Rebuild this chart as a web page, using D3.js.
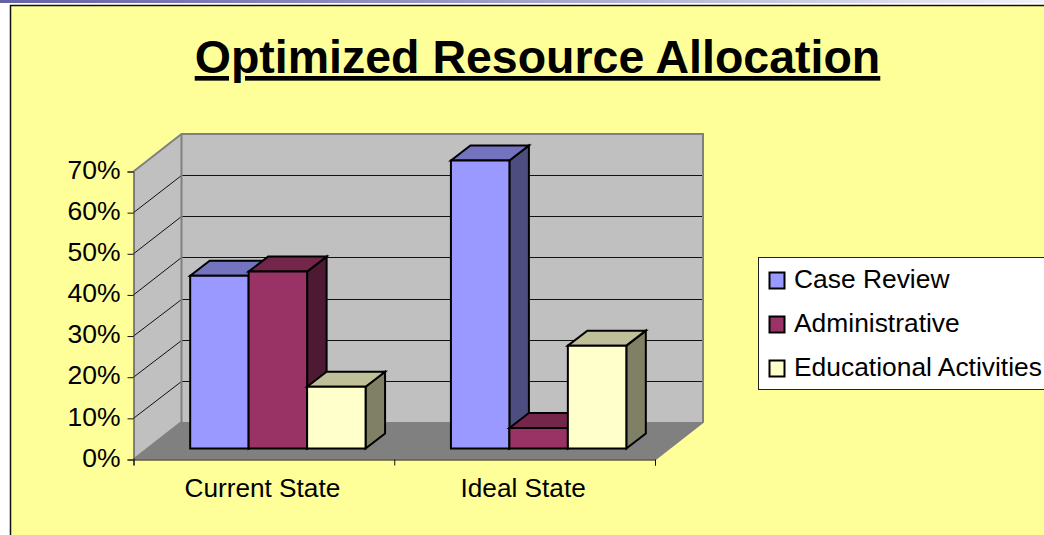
<!DOCTYPE html>
<html><head><meta charset="utf-8">
<script src="https://cdn.jsdelivr.net/npm/d3@7"></script>
<style>html,body{margin:0;padding:0;background:#fff;overflow:hidden}svg{display:block}text{font-family:"Liberation Sans",Arial,sans-serif;fill:#000}</style>
</head><body><svg id="c" width="1044" height="535"></svg>
<script>
const titleText = "Optimized Resource Allocation";
const categories = ["Current State", "Ideal State"];
const seriesNames = ["Case Review", "Administrative", "Educational Activities"];
const caseReview = [42, 70];
const administrative = [43, 5];
const educational = [15, 25];
const yTicks = [0, 10, 20, 30, 40, 50, 60, 70];
const frontColors = ["#9999FF", "#993366", "#FFFFCC"];
const topColors = ["#7373BF", "#732649", "#BFBF99"];
const sideColors = ["#4D4D80", "#4D1933", "#808066"];
const seriesValues = [caseReview, administrative, educational];

const svg = d3.select("#c");
// slide
const grad = svg.append("defs").append("linearGradient").attr("id", "strip");
grad.append("stop").attr("offset", "0").attr("stop-color", "#6262A6");
grad.append("stop").attr("offset", "0.45").attr("stop-color", "#9A9AC6");
grad.append("stop").attr("offset", "1").attr("stop-color", "#F2F2F8");
svg.append("rect").attr("x", 0).attr("y", 0).attr("width", 1044).attr("height", 3).attr("fill", "url(#strip)");
svg.append("rect").attr("x", 10.5).attr("y", 5.5).attr("width", 1040).attr("height", 540)
  .attr("fill", "#FFFF99").attr("stroke", "#111").attr("stroke-width", 1.5);

svg.append("text").attr("x", 537.5).attr("y", 73).attr("text-anchor", "middle")
  .attr("font-size", 46.5).attr("font-weight", "bold").attr("text-decoration", "underline").text(titleText);

// plot geometry
const x0 = 133.5, x1 = 655, yBase = 459.5, yTop = 171.5, depthX = 48, depthY = 37.5;
const y = d3.scaleLinear().domain([0, 70]).range([yBase, yTop]);
const xIndex = d3.scaleLinear().domain([0, categories.length]).range([x0, x1]);
const xBand = d3.scaleBand().domain(categories).range([x0, x1]);
const xSeries = d3.scaleBand().domain(seriesNames).range([0, xBand.bandwidth()]).paddingInner(0).paddingOuter(0.73);
const poly = (pts, fill, stroke, sw) => svg.append("polygon").attr("points", pts.map(p => p.join(",")).join(" "))
  .attr("fill", fill).attr("stroke", stroke).attr("stroke-width", sw).attr("stroke-linejoin", "miter");

// walls and floor
poly([[x0, y(0)], [x0 + depthX, y(0) - depthY], [x0 + depthX, y(70) - depthY], [x0, y(70)]], "#C0C0C0", "none", 0);
poly([[x0 + depthX, y(0) - depthY], [x1 + depthX, y(0) - depthY], [x1 + depthX, y(70) - depthY], [x0 + depthX, y(70) - depthY]], "#C0C0C0", "none", 0);
poly([[x0, y(0)], [x1, y(0)], [x1 + depthX, y(0) - depthY], [x0 + depthX, y(0) - depthY]], "#808080", "none", 0);

// gridlines
yTicks.filter(t => t > 0 && t < 70).forEach(t => {
  const back = Math.round(y(t) - depthY) + 0.5;
  svg.append("path").attr("fill", "none").attr("stroke", "#111").attr("stroke-width", 1)
    .attr("d", d3.line()([[x0, y(t)], [x0 + depthX, back], [x1 + depthX, back]]));
});
// wall borders
svg.append("path").attr("fill", "none").attr("stroke", "#808080").attr("stroke-width", 2)
  .attr("d", d3.line()([[x0, y(70)], [x0 + depthX, y(70) - depthY], [x1 + depthX, y(70) - depthY], [x1 + depthX, y(0) - depthY], [x1, y(0)]]));
svg.append("path").attr("fill", "none").attr("stroke", "#808080").attr("stroke-width", 2)
  .attr("d", d3.line()([[x0, y(0)], [x0 + depthX, y(0) - depthY], [x0 + depthX, y(70) - depthY]]));

// bars
const barInX = 14, barInY = 11, barDX = 19.5, barDY = 15;
categories.forEach((c, ci) => {
  seriesNames.forEach((s, si) => {
    const v = seriesValues[si][ci];
    const l = xBand(c) + xSeries(s) + barInX, r = l + xSeries.bandwidth();
    const b = y(0) - barInY, t = y(v) - barInY;
    const sw = 2;
    poly([[r, t], [r + barDX, t - barDY], [r + barDX, b - barDY], [r, b]], sideColors[si], "#000", sw);
    poly([[l, t], [l + barDX, t - barDY], [r + barDX, t - barDY], [r, t]], topColors[si], "#000", sw);
    poly([[l, t], [r, t], [r, b], [l, b]], frontColors[si], "#000", sw);
  });
});

// axes
const yAxis = svg.append("g").attr("transform", `translate(${x0},0)`)
  .call(d3.axisLeft(y).tickValues(yTicks).tickSize(6).tickFormat(d => d + "%"));
yAxis.select(".domain").attr("stroke", "#333").attr("stroke-width", 1);
yAxis.selectAll("line").attr("stroke", "#111");
yAxis.selectAll("text").attr("font-size", 26.5).attr("x", -13).attr("y", -2.5).attr("dy", "0.35em").attr("font-family", "Liberation Sans").attr("fill", "#000");

const xAxis = svg.append("g").attr("transform", `translate(0,${yBase})`)
  .call(d3.axisBottom(xIndex).tickValues(d3.range(categories.length + 1)).tickSize(6).tickFormat(""));
xAxis.select(".domain").attr("stroke", "#111").attr("stroke-width", 1);
xAxis.selectAll("line").attr("stroke", "#111");
svg.append("g").selectAll("text").data(categories).join("text")
  .attr("x", d => xBand(d) + xBand.bandwidth() / 2 - 1.5).attr("y", 497)
  .attr("text-anchor", "middle").attr("font-size", 26.2).text(d => d);

// legend
svg.append("rect").attr("x", 758.5).attr("y", 257.5).attr("width", 300).attr("height", 132)
  .attr("fill", "#fff").attr("stroke", "#222").attr("stroke-width", 1);
const legendY = d3.scalePoint().domain(seriesNames).range([280.5, 368.5]);
const lg = svg.append("g").selectAll("g").data(seriesNames).join("g");
lg.append("rect").attr("x", 769.5).attr("y", d => legendY(d) - 8).attr("width", 15).attr("height", 16)
  .attr("fill", (d, i) => frontColors[i]).attr("stroke", "#000").attr("stroke-width", 2);
lg.append("text").attr("x", 794).attr("y", d => legendY(d) + 7.5).attr("font-size", 26.4).text(d => d);
</script></body></html>
